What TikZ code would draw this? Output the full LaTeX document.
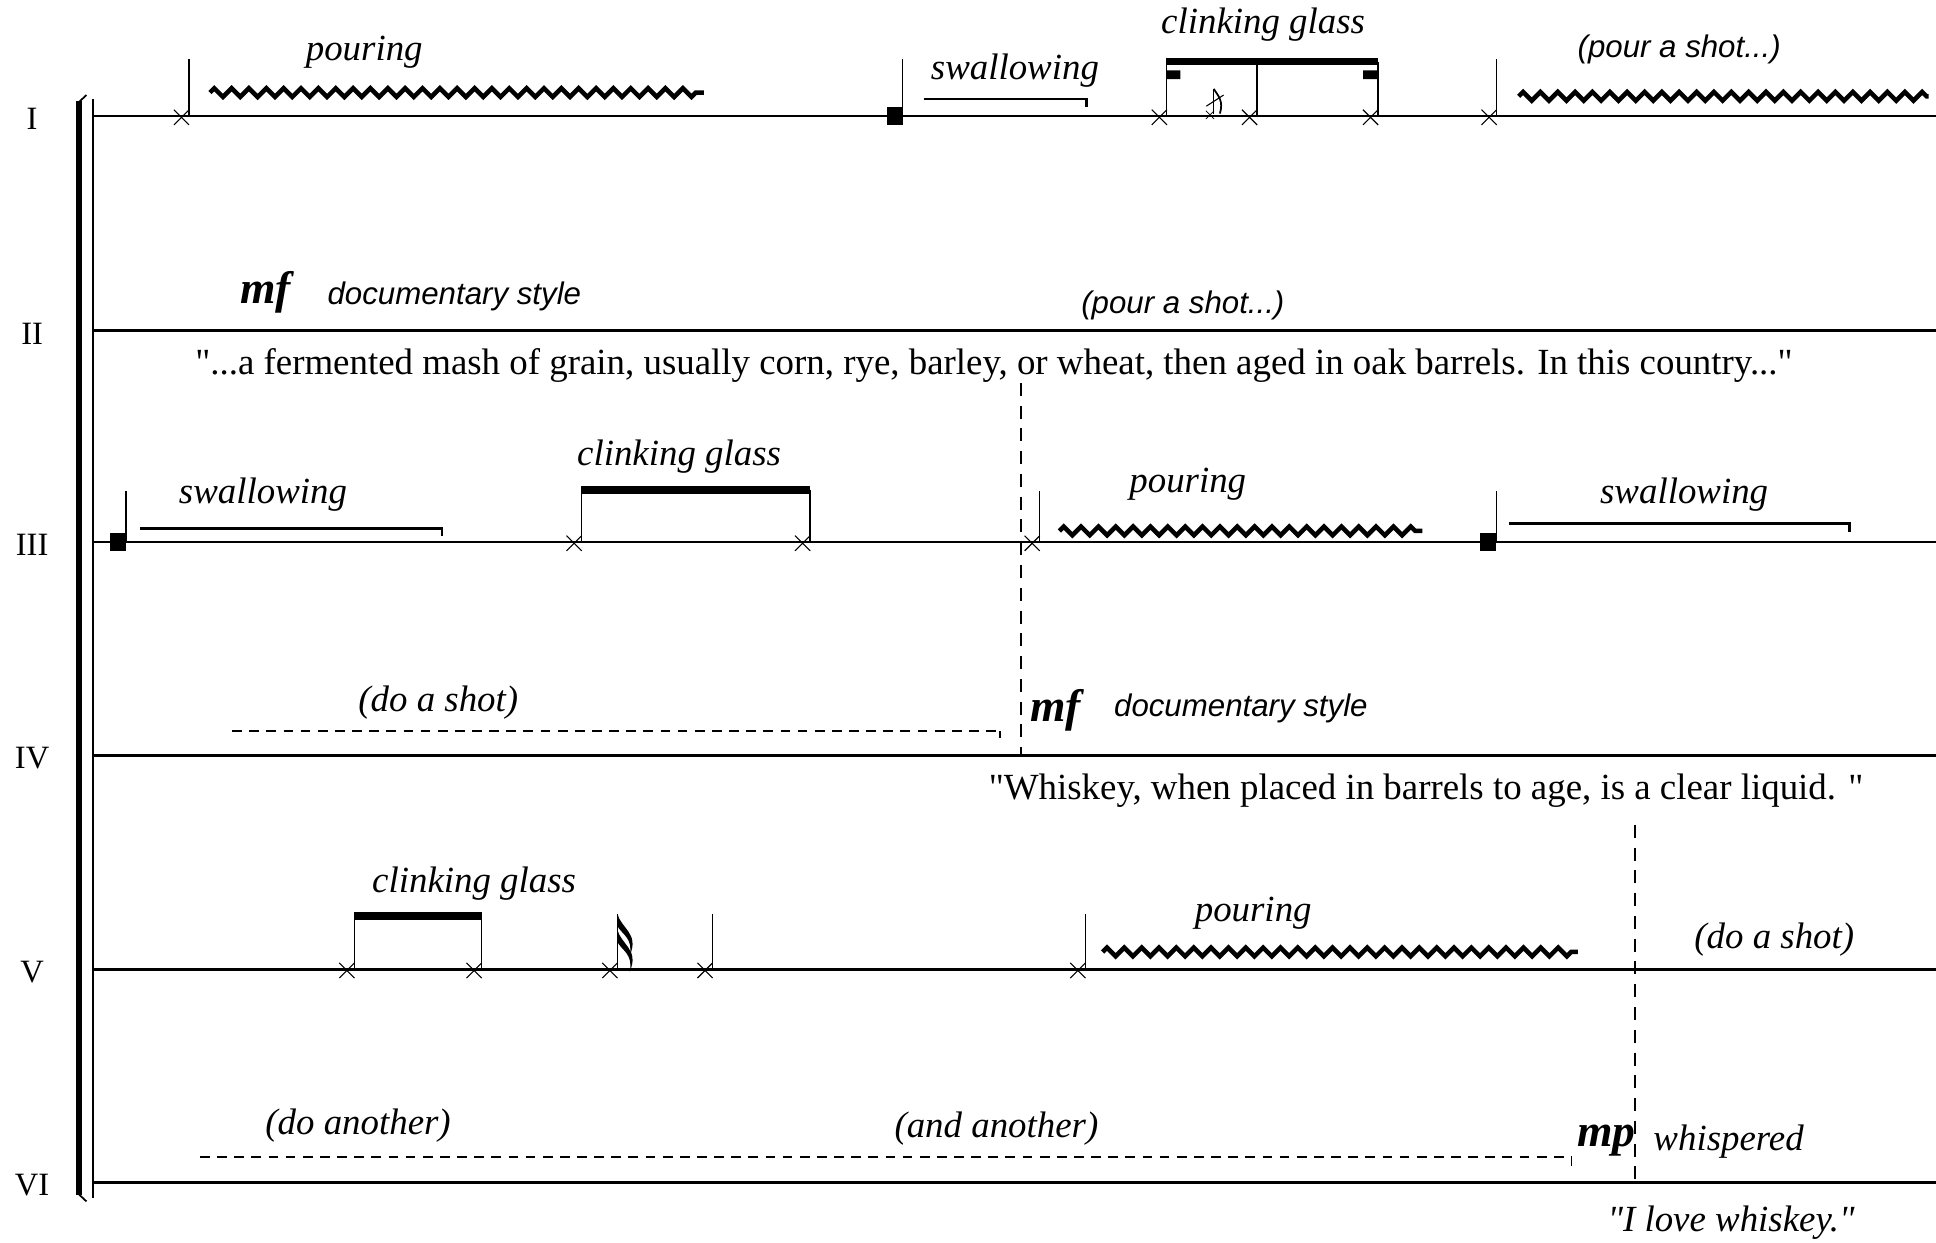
\documentclass[tikz,border=0pt]{standalone}
\usepackage{fontspec}
\setmainfont{Liberation Serif}[Ligatures=TeXOff]
\setsansfont{Liberation Sans}[Ligatures=TeXOff]
\usetikzlibrary{shapes.misc,decorations.pathmorphing}

\begin{document}
\begin{tikzpicture}[x=0.02cm, y=-0.02cm,
    staffline/.style={line width=1.3pt},
    notestem/.style={line width=0.6pt},
    notebeam/.style={line width=3.4pt},
    xhead/.style={cross out, draw, line width=0.5pt, inner sep=0pt, minimum size=6.5pt},
    holdline/.style={line width=1.1pt},
    shotline/.style={line width=1.1pt, dash pattern=on 4.5pt off 3.4pt},
    cueline/.style={line width=0.9pt, dash pattern=on 6pt off 4.5pt},
    wave/.style={line width=2.1pt, line join=miter, decorate, decoration={zigzag, segment length=8pt, amplitude=2pt}},
    lbl/.style={font=\fontsize{17}{17}\selectfont\itshape},
    spoken/.style={font=\fontsize{17}{17}\selectfont},
    cue/.style={font=\fontsize{14.4}{14.4}\selectfont\sffamily\itshape},
    dyn/.style={font=\fontsize{21}{21}\selectfont\bfseries\itshape}]
    \useasboundingbox (0,0) rectangle (1568,1006);
    % staves and numbers
    \foreach \y/\n in {94/I, 268/II, 439/III, 612/IV, 785/V, 958/VI} {
      \draw [staffline] (75,\y) -- (1568,\y);
      \node (num\n) at (26,\y+2) [font=\fontsize{15}{15}\selectfont] {\n};
    }
    % system bracket
    \draw [line width=3pt] (64,82) -- (64,968);
    \draw [line width=1pt] (75,80) -- (75,970);
    \draw [line width=0.8pt] (62.5,84) -- (70,77) (62.5,966) -- (70,973);
    % single notes with stems
    \foreach \x/\y/\t in {153/94/48, 1212/94/48, 842/439/398, 500/785/740, 577/785/740, 879/785/740} {
      \node (xh) at (\x-6,\y+1) [xhead] {};
      \draw [notestem] (\x,\y) -- (\x,\t);
    }
    % beamed groups
    \foreach \a/\b/\y/\t in {945/1116/94/50, 471/656/439/397, 287/390/785/742} {
      \draw [notebeam] (\a-0.3,\t) -- (\b+0.3,\t);
      \foreach \s in {\a,\b} {
        \draw [notestem] (\s,\y) -- (\s,\t);
        \node (bh) at (\s-6,\y+1) [xhead] {};
      }
    }
    \draw [notestem] (1018,94) -- (1018,50);
    \node (bmid) at (1012,95) [xhead] {};
    \fill (945,57) rectangle (956,64) (1104,57) rectangle (1116,64);
    % grace note
    \node (grace) at (980,93) [xhead, minimum size=3.5pt, line width=0.3pt] {};
    \draw [line width=0.5pt] (983,92) -- (983,72);
    \draw [line width=0.8pt] (983,72) .. controls (987,78) and (991,82) .. (988,92);
    \draw [line width=0.5pt] (977,86) -- (991,77);
    % sixteenth flags
    \foreach \f in {0,13} {
      \fill (500,740+\f) .. controls (503,752+\f) and (518,756+\f) .. (510,774+\f)
        .. controls (513,760+\f) and (504,757+\f) .. (500,750+\f) -- cycle;
    }
    % square heads
    \foreach \x/\y/\t in {731/94/48, 102/439/398, 1212/439/398} {
      \fill (\x-13,\y-7) rectangle (\x,\y+7);
      \draw [notestem] (\x,\y) -- (\x,\t);
    }
    % swallowing lines
    \draw [holdline] (748,80) -- (880,80) -- (880,87);
    \draw [holdline] (113,428) -- (358,428) -- (358,434);
    \draw [holdline] (1222,424) -- (1498,424) -- (1498,431);
    % pouring
    \draw [wave] (170,75) -- (570,75);
    \draw [wave] (1230,78) -- (1562,78);
    \draw [wave] (858,430) -- (1152,430);
    \draw [wave] (893,771) -- (1278,771);
    % shots
    \draw [shotline] (188,592) -- (810,592);
    \draw [line width=0.6pt] (810,592) -- (810,598);
    \draw [shotline] (162,937) -- (1273,937);
    \draw [line width=0.6pt] (1273,937) -- (1273,944);
    \draw [cueline] (827,310) -- (827,612);
    \draw [cueline] (1324,668) -- (1324,955);
    % texts
    \node (pour1) at (295,42) [lbl] {pouring};
    \node (swal1) at (822,57) [lbl] {swallowing};
    \node (clink1) at (1023,20) [lbl] {clinking glass};
    \node (cue1) at (1360,40) [cue] {(pour a shot...)};
    \node (mf1) at (215,237) [dyn] {mf};
    \node (doc1) at (368,240) [cue] {documentary style};
    \node (cue2) at (958,247) [cue] {(pour a shot...)};
    \node (say1) at (805,296) [spoken] {"...a fermented mash of grain, usually corn, rye, barley, or wheat, then aged in oak barrels. In this country..."};
    \node (swal2) at (213,401) [lbl] {swallowing};
    \node (clink2) at (550,370) [lbl] {clinking glass};
    \node (pour2) at (962,392) [lbl] {pouring};
    \node (swal3) at (1364,401) [lbl] {swallowing};
    \node (shot1) at (355,569) [lbl] {(do a shot)};
    \node (mf2) at (855,575) [dyn] {mf};
    \node (doc2) at (1005,574) [cue] {documentary style};
    \node (say2) at (1155,640) [spoken] {"Whiskey, when placed in barrels to age, is a clear liquid. "};
    \node (clink3) at (384,716) [lbl] {clinking glass};
    \node (pour3) at (1015,740) [lbl] {pouring};
    \node (shot2) at (1437,761) [lbl] {(do a shot)};
    \node (shot3) at (290,912) [lbl] {(do another)};
    \node (shot4) at (807,914) [lbl] {(and another)};
    \node (mp1) at (1301,924) [dyn] {mp};
    \node (wisp) at (1400,925) [lbl] {whispered};
    \node (say3) at (1402,990) [lbl] {"I love whiskey."};
  \end{tikzpicture}
\end{document}
